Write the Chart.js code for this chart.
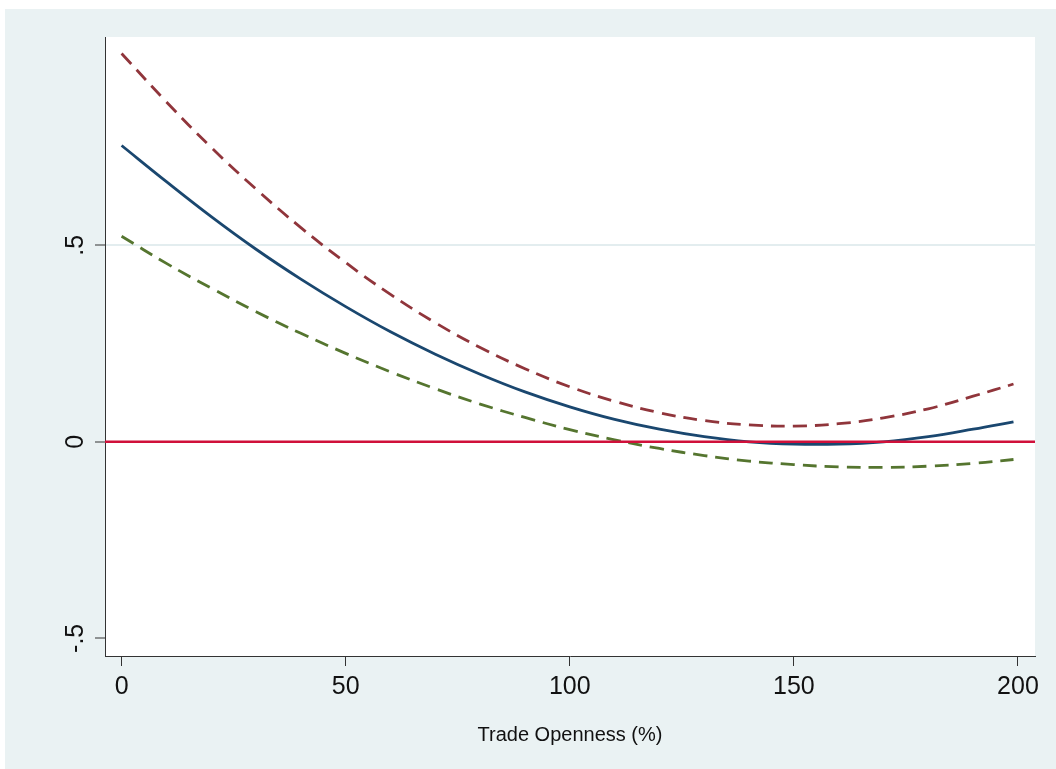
<!DOCTYPE html>
<html>
<head>
<meta charset="utf-8">
<script src="https://cdn.jsdelivr.net/npm/chart.js@4"></script>
<style>
  html, body { margin: 0; padding: 0; background: #ffffff; }
  #wrap { width: 1056px; height: 769px; }
</style>
</head>
<body>
<div id="wrap"><canvas id="chart" width="1056" height="769"></canvas></div>
<script>
// values
const openness = [0, 10, 20, 30, 40, 50, 60, 70, 80, 90, 100, 110, 120, 130, 140, 150, 160, 170, 180, 190, 199];
const effect = [0.754, 0.662, 0.573, 0.490, 0.414, 0.344, 0.280, 0.223, 0.172, 0.127, 0.089, 0.057, 0.032, 0.013, 0.000, -0.006, -0.006, 0.000, 0.013, 0.032, 0.051];
const upperBound = [0.988, 0.865, 0.749, 0.643, 0.545, 0.456, 0.375, 0.303, 0.240, 0.186, 0.140, 0.103, 0.074, 0.054, 0.043, 0.040, 0.046, 0.061, 0.084, 0.116, 0.147];
const lowerBound = [0.523, 0.454, 0.391, 0.331, 0.276, 0.225, 0.178, 0.135, 0.096, 0.062, 0.031, 0.005, -0.017, -0.035, -0.049, -0.058, -0.064, -0.065, -0.062, -0.055, -0.045];
const xTicks = [0, 50, 100, 150, 200];
const yTicks = [-0.5, 0, 0.5];
const yTickLabels = ['-.5', '0', '.5'];
const xRange = [-3.7, 203.8];
const yRange = [-0.545, 1.03];
const zeroLine = [0, 0];

function toPoints(xs, ys) {
  return xs.map((x, i) => ({ x: x, y: ys[i] }));
}

const backdrop = {
  id: 'backdrop',
  beforeDraw(chart) {
    const { ctx, chartArea } = chart;
    ctx.save();
    ctx.fillStyle = '#ffffff';
    ctx.fillRect(0, 0, chart.width, chart.height);
    ctx.fillStyle = '#eaf2f3';
    ctx.fillRect(5, 9, chart.width - 5, chart.height - 9);
    ctx.fillStyle = '#ffffff';
    ctx.fillRect(chartArea.left, chartArea.top, chartArea.right - chartArea.left, chartArea.bottom - chartArea.top);
    ctx.restore();
  },
};

// Stata-style rotated y tick labels
const yLabels = {
  id: 'yLabels',
  afterDraw(chart) {
    const { ctx } = chart;
    const y = chart.scales.y;
    ctx.save();
    ctx.fillStyle = '#111111';
    ctx.font = '25px "Liberation Sans", Arial, sans-serif';
    ctx.textAlign = 'center';
    ctx.textBaseline = 'alphabetic';
    yTicks.forEach((v, i) => {
      ctx.save();
      ctx.translate(83, y.getPixelForValue(v));
      ctx.rotate(-Math.PI / 2);
      ctx.fillText(yTickLabels[i], 0, 0);
      ctx.restore();
    });
    ctx.restore();
  },
};

const dashed = [14, 8];

new Chart(document.getElementById('chart'), {
  type: 'line',
  data: {
    datasets: [
      {
        data: toPoints(xRange, zeroLine),
        borderColor: '#d0103a',
        borderWidth: 2.5,
        pointRadius: 0,
        order: 0,
      },
      {
        data: toPoints(openness, upperBound),
        borderColor: '#90353b',
        borderWidth: 2.8,
        borderDash: dashed,
        pointRadius: 0,
        tension: 0.4,
        order: 1,
      },
      {
        data: toPoints(openness, lowerBound),
        borderColor: '#55752f',
        borderWidth: 2.8,
        borderDash: dashed,
        pointRadius: 0,
        tension: 0.4,
        order: 1,
      },
      {
        data: toPoints(openness, effect),
        borderColor: '#1a476f',
        borderWidth: 2.8,
        pointRadius: 0,
        tension: 0.4,
        order: 1,
      },
    ],
  },
  options: {
    responsive: false,
    animation: false,
    layout: {
      padding: { left: 5, top: 37, right: 21, bottom: 0 },
    },
    plugins: {
      legend: { display: false },
      tooltip: { enabled: false },
    },
    scales: {
      x: {
        type: 'linear',
        min: xRange[0],
        max: xRange[1],
        afterBuildTicks: (scale) => {
          scale.ticks = xTicks.map((v) => ({ value: v }));
        },
        afterFit: (scale) => {
          scale.height = 113;
        },
        grid: {
          drawOnChartArea: false,
          tickLength: 10,
          tickColor: '#333333',
        },
        border: { display: true, color: '#333333', width: 1 },
        ticks: {
          padding: 6,
          color: '#111111',
          font: { family: '"Liberation Sans", Arial, sans-serif', size: 25 },
          maxRotation: 0,
          callback: (v) => String(v),
        },
        title: {
          display: true,
          text: 'Trade Openness (%)',
          color: '#111111',
          font: { family: '"Liberation Sans", Arial, sans-serif', size: 20 },
          padding: { top: 0, bottom: 22 },
        },
      },
      y: {
        type: 'linear',
        min: yRange[0],
        max: yRange[1],
        afterBuildTicks: (scale) => {
          scale.ticks = yTicks.map((v) => ({ value: v }));
        },
        afterFit: (scale) => {
          scale.width = 100;
        },
        grid: {
          color: (c) => (c.tick && c.tick.value === 0.5 ? '#e3edef' : 'rgba(0,0,0,0)'),
          lineWidth: 2,
          tickLength: 10,
          tickColor: '#333333',
          tickWidth: 1,
        },
        border: { display: true, color: '#333333', width: 1 },
        ticks: { display: false },
      },
    },
  },
  plugins: [backdrop, yLabels],
});
</script>
</body>
</html>
